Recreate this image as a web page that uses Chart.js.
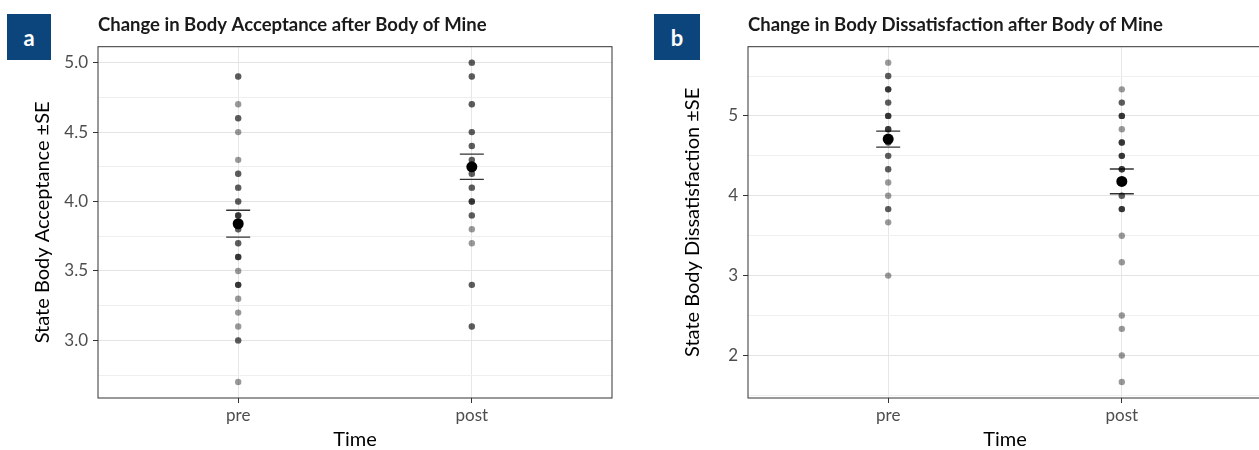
<!DOCTYPE html>
<html>
<head>
<meta charset="utf-8">
<script src="https://cdn.jsdelivr.net/npm/chart.js@4.4.1/dist/chart.umd.min.js"></script>
<style>
  html, body { margin: 0; padding: 0; background: #fff; overflow: hidden; }
  #wrap { position: relative; width: 1259px; height: 450px; overflow: hidden; }
  canvas { position: absolute; top: 0; }
  #chartA { left: 0; }
  #chartB { left: 640px; }
  .badge {
    position: absolute; top: 14px; width: 44px; height: 46px; z-index: 2;
    background: #0c447c; color: #fff; font: bold 22px Lato, sans-serif;
    display: flex; align-items: center; justify-content: center;
  }
</style>
</head>
<body>
<div id="wrap">
  <canvas id="chartA" width="640" height="450" style="width:640px;height:450px"></canvas>
  <canvas id="chartB" width="640" height="450" style="width:640px;height:450px"></canvas>
  <div class="badge" style="left:7px">a</div>
  <div class="badge" style="left:654px;width:46px">b</div>
</div>
<script>
const timeLabels = ['pre', 'post'];

// body acceptance, one score per participant
const acceptancePre = [4.9, 4.9, 4.7, 4.6, 4.6, 4.5, 4.3, 4.2, 4.2, 4.1, 4.1, 4.0, 4.0,
  3.9, 3.9, 3.9, 3.8, 3.8, 3.7, 3.7, 3.6, 3.6, 3.6, 3.5, 3.4, 3.4, 3.4, 3.3, 3.2, 3.1,
  3.0, 3.0, 2.7];
const acceptancePost = [5.0, 5.0, 4.9, 4.9, 4.7, 4.7, 4.5, 4.5, 4.4, 4.4, 4.3, 4.3, 4.2,
  4.2, 4.1, 4.1, 4.0, 4.0, 4.0, 3.9, 3.9, 3.8, 3.7, 3.4, 3.4, 3.1, 3.1];
const acceptanceMean = [3.84, 4.25];
const acceptanceSE = [0.097, 0.091];
const acceptanceTicks = [3.0, 3.5, 4.0, 4.5, 5.0];
const acceptanceMinor = [2.75, 3.25, 3.75, 4.25, 4.75];

// body dissatisfaction
const dissatisfactionPre = [5.667, 5.5, 5.5, 5.333, 5.333, 5.333, 5.167, 5.167, 5.0, 5.0,
  5.0, 4.833, 4.833, 4.833, 4.667, 4.667, 4.5, 4.5, 4.333, 4.333, 4.167, 4.0, 3.833,
  3.833, 3.667, 3.0];
const dissatisfactionPost = [5.333, 5.167, 5.167, 5.0, 5.0, 5.0, 4.833, 4.667, 4.667, 4.667,
  4.5, 4.5, 4.5, 4.333, 4.333, 4.333, 4.167, 4.167, 4.0, 4.0, 3.833, 3.833, 3.833, 3.5,
  3.167, 2.5, 2.333, 2.0, 1.667];
const dissatisfactionMean = [4.71, 4.18];
const dissatisfactionSE = [0.10, 0.155];
const dissatisfactionTicks = [2, 3, 4, 5];
const dissatisfactionMinor = [1.5, 2.5, 3.5, 4.5, 5.5];

// ggplot style panel border
const panelBox = {
    id: 'panelBox',
    afterDraw(chart) {
        const a = chart.chartArea;
        const ctx = chart.ctx;
        ctx.save();
        ctx.strokeStyle = '#333';
        ctx.lineWidth = 1;
        ctx.strokeRect(a.left, a.top, a.right - a.left, a.bottom - a.top);
        ctx.restore();
    }
};

function createPanel(ctx, cfg) {
    const points = [];
    cfg.pre.forEach(v => points.push({ x: 1, y: v }));
    cfg.post.forEach(v => points.push({ x: 2, y: v }));
    const means = cfg.mean.map((m, i) => ({ x: i + 1, y: m }));
    const caps = [];
    cfg.mean.forEach((m, i) => {
        caps.push({ x: i + 1, y: m - cfg.se[i] });
        caps.push({ x: i + 1, y: m + cfg.se[i] });
    });
    const gridValues = cfg.minor.concat(cfg.major).sort((a, b) => a - b);
    const isMajor = v => cfg.major.includes(v);

    return new Chart(ctx, {
        type: 'scatter',
        data: {
            datasets: [
                { data: points, backgroundColor: 'rgba(0,0,0,0.4)', borderWidth: 0, pointRadius: 3.2 },
                { data: caps, pointStyle: 'line', pointRadius: 12, borderColor: '#333', borderWidth: 1.3 },
                { data: means, backgroundColor: '#000', borderWidth: 0, pointRadius: 5.5 }
            ]
        },
        options: {
            responsive: false,
            animation: false,
            events: [],
            layout: { padding: { left: 0, right: cfg.padRight, top: 0, bottom: 0 } },
            plugins: {
                legend: { display: false },
                tooltip: { enabled: false },
                title: {
                    display: true,
                    text: cfg.title,
                    align: 'start',
                    fullSize: false,
                    color: '#1a1a1a',
                    font: { family: 'Lato', size: 18.5, weight: 'bold', lineHeight: 1.2 },
                    padding: { top: 14.4, bottom: 10.1 }
                }
            },
            scales: {
                x: {
                    type: 'linear',
                    min: 0.4,
                    max: 2.6,
                    afterBuildTicks: s => { s.ticks = timeLabels.map((t, i) => ({ value: i + 1 })); },
                    afterFit: s => { s.height = 52; },
                    ticks: {
                        callback: v => timeLabels[v - 1],
                        color: '#4d4d4d',
                        font: { family: 'Lato', size: 17, lineHeight: 1 },
                        padding: 4,
                        maxRotation: 0
                    },
                    grid: { color: '#e6e6e6', tickColor: '#333', tickLength: 5 },
                    border: { display: false },
                    title: {
                        display: true, text: 'Time', color: '#000',
                        font: { family: 'Lato', size: 20, lineHeight: 1 },
                        padding: { top: 2, bottom: 0 }
                    }
                },
                y: {
                    min: cfg.min,
                    max: cfg.max,
                    afterBuildTicks: s => { s.ticks = gridValues.map(v => ({ value: v })); },
                    afterFit: s => { s.width = cfg.axisWidth; },
                    ticks: {
                        callback: v => isMajor(v) ? v.toFixed(cfg.digits) : '',
                        color: '#4d4d4d',
                        font: { family: 'Lato', size: 17, lineHeight: 1 },
                        padding: 5
                    },
                    grid: {
                        color: c => isMajor(c.tick.value) ? '#e3e3e3' : '#efefef',
                        tickColor: c => isMajor(c.tick.value) ? '#333' : 'rgba(0,0,0,0)',
                        tickLength: 5
                    },
                    border: { display: false },
                    title: {
                        display: true, text: cfg.yTitle, color: '#000',
                        font: { family: 'Lato', size: 20, lineHeight: 1 },
                        padding: { top: cfg.titleTop, bottom: 4 }
                    }
                }
            }
        },
        plugins: [panelBox]
    });
}

const chartA = createPanel(document.getElementById('chartA').getContext('2d'), {
    title: 'Change in Body Acceptance after Body of Mine',
    yTitle: 'State Body Acceptance \u00b1SE',
    pre: acceptancePre, post: acceptancePost,
    mean: acceptanceMean, se: acceptanceSE,
    major: acceptanceTicks, minor: acceptanceMinor,
    min: 2.585, max: 5.115, digits: 1,
    axisWidth: 98, titleTop: 33, padRight: 28
});

const chartB = createPanel(document.getElementById('chartB').getContext('2d'), {
    title: 'Change in Body Dissatisfaction after Body of Mine',
    yTitle: 'State Body Dissatisfaction \u00b1SE',
    pre: dissatisfactionPre, post: dissatisfactionPost,
    mean: dissatisfactionMean, se: dissatisfactionSE,
    major: dissatisfactionTicks, minor: dissatisfactionMinor,
    min: 1.467, max: 5.867, digits: 0,
    axisWidth: 108, titleTop: 43, padRight: 18
});
</script>
</body>
</html>
